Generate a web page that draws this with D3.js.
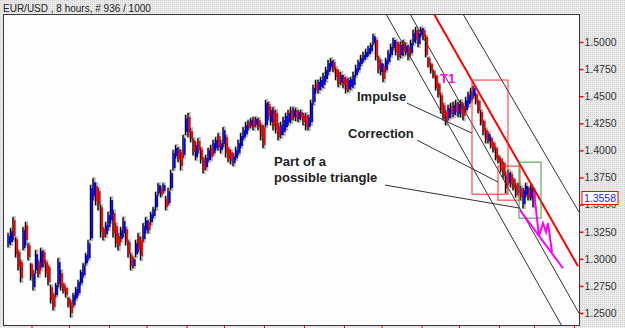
<!DOCTYPE html>
<html>
<head>
<meta charset="utf-8">
<script src="https://cdn.jsdelivr.net/npm/d3@7"></script>
<style>
  body { margin: 0; }
  svg { display: block; }
</style>
</head>
<body>
<script>
const opens = [1.3135,1.3154,1.3356,1.3181,1.3061,1.2969,1.3098,1.3310,1.3126,1.2950,
  1.2738,1.2895,1.2969,1.2922,1.3061,1.2969,1.2922,1.2738,1.2664,1.2664,
  1.2766,1.2867,1.2766,1.2729,1.2636,1.2600,1.2572,1.2636,1.2682,1.2775,
  1.2849,1.2959,1.3005,1.3190,1.3578,1.3671,1.3624,1.3476,1.3273,1.3227,
  1.3291,1.3356,1.3421,1.3301,1.3209,1.3181,1.3236,1.3273,1.3154,1.3033,
  1.2932,1.3042,1.3209,1.3172,1.3181,1.3264,1.3338,1.3338,1.3394,1.3476,
  1.3605,1.3652,1.3624,1.3559,1.3513,1.3652,1.3836,1.3947,1.4012,1.3984,
  1.3956,1.4169,1.4307,1.4178,1.4095,1.3937,1.4086,1.4012,1.3919,1.3845,
  1.3910,1.4030,1.3974,1.4021,1.4132,1.4002,1.4058,1.4122,1.4012,1.3984,
  1.3882,1.3928,1.3974,1.4040,1.4113,1.4150,1.4261,1.4224,1.4289,1.4233,
  1.4279,1.4233,1.4214,1.4233,1.4427,1.4261,1.4372,1.4344,1.4224,1.4141,
  1.4169,1.4214,1.4261,1.4372,1.4307,1.4372,1.4289,1.4354,1.4326,1.4317,
  1.4214,1.4261,1.4446,1.4621,1.4556,1.4584,1.4603,1.4658,1.4723,1.4768,
  1.4815,1.4750,1.4723,1.4621,1.4676,1.4658,1.4566,1.4584,1.4603,1.4695,
  1.4741,1.4796,1.4833,1.4860,1.4888,1.4916,1.4990,1.5018,1.4851,1.4723,
  1.4778,1.4741,1.4815,1.4879,1.4944,1.5000,1.4981,1.4879,1.5000,1.4897,
  1.4953,1.4897,1.5000,1.5110,1.4981,1.5064,1.5110,1.5045,1.4851,1.4796,
  1.4732,1.4686,1.4612,1.4510,1.4418,1.4354,1.4298,1.4409,1.4335,1.4436,
  1.4335,1.4446,1.4409,1.4372,1.4427,1.4464,1.4501,1.4519,1.4455,1.4354,
  1.4270,1.4187,1.4086,1.4113,1.4067,1.4021,1.3947,1.3919,1.3882,1.3772,
  1.3698,1.3781,1.3735,1.3680,1.3605,1.3652,1.3504,1.3587,1.3652,1.3559,
  1.3633]
const highs = [1.3236,1.3282,1.3384,1.3199,1.3079,1.2987,1.3291,1.3338,1.3144,1.2959,
  1.2895,1.3079,1.2987,1.3098,1.3079,1.2987,1.2941,1.2757,1.2682,1.2775,
  1.3005,1.2895,1.2775,1.2738,1.2645,1.2618,1.2682,1.2738,1.2803,1.2895,
  1.2959,1.3051,1.3172,1.3680,1.3744,1.3698,1.3652,1.3495,1.3291,1.3338,
  1.3431,1.3568,1.3449,1.3328,1.3236,1.3291,1.3384,1.3291,1.3172,1.3051,
  1.3014,1.3172,1.3236,1.3199,1.3328,1.3384,1.3356,1.3431,1.3476,1.3615,
  1.3698,1.3671,1.3698,1.3578,1.3652,1.3818,1.4002,1.4049,1.4030,1.4002,
  1.4141,1.4326,1.4344,1.4205,1.4113,1.4077,1.4113,1.4030,1.3937,1.3956,
  1.4021,1.4049,1.4095,1.4122,1.4159,1.4095,1.4214,1.4141,1.4030,1.4002,
  1.3974,1.4030,1.4095,1.4159,1.4214,1.4261,1.4279,1.4298,1.4307,1.4307,
  1.4298,1.4251,1.4233,1.4464,1.4446,1.4399,1.4399,1.4372,1.4251,1.4261,
  1.4307,1.4344,1.4372,1.4399,1.4399,1.4390,1.4372,1.4372,1.4344,1.4344,
  1.4326,1.4464,1.4603,1.4649,1.4649,1.4676,1.4713,1.4768,1.4833,1.4851,
  1.4833,1.4768,1.4741,1.4723,1.4695,1.4676,1.4667,1.4676,1.4723,1.4787,
  1.4833,1.4879,1.4907,1.4935,1.4963,1.4990,1.5073,1.5036,1.4870,1.4833,
  1.4796,1.4851,1.4925,1.4981,1.5036,1.5018,1.5000,1.5000,1.5018,1.4990,
  1.4972,1.5018,1.5110,1.5137,1.5110,1.5137,1.5128,1.5064,1.4860,1.4805,
  1.4741,1.4695,1.4621,1.4528,1.4436,1.4372,1.4418,1.4436,1.4446,1.4464,
  1.4446,1.4464,1.4436,1.4491,1.4538,1.4575,1.4594,1.4528,1.4464,1.4372,
  1.4279,1.4205,1.4169,1.4122,1.4077,1.4030,1.3956,1.3928,1.3892,1.3800,
  1.3818,1.3800,1.3744,1.3698,1.3698,1.3671,1.3652,1.3698,1.3661,1.3680,
  1.3652]
const lows = [1.3107,1.3126,1.3172,1.3014,1.2895,1.2785,1.3079,1.3126,1.2987,1.2803,
  1.2710,1.2867,1.2830,1.2895,1.2922,1.2830,1.2757,1.2590,1.2526,1.2645,
  1.2738,1.2710,1.2682,1.2645,1.2553,1.2461,1.2553,1.2618,1.2664,1.2757,
  1.2830,1.2941,1.2987,1.3172,1.3541,1.3495,1.3449,1.3199,1.3172,1.3199,
  1.3264,1.3328,1.3199,1.3107,1.3079,1.3154,1.3199,1.3126,1.3014,1.2895,
  1.2913,1.3014,1.3061,1.2987,1.3154,1.3236,1.3236,1.3310,1.3375,1.3449,
  1.3587,1.3568,1.3605,1.3449,1.3495,1.3633,1.3818,1.3928,1.3892,1.3818,
  1.3928,1.4141,1.4122,1.4077,1.3956,1.3910,1.3974,1.3882,1.3790,1.3818,
  1.3892,1.3910,1.3956,1.4002,1.4002,1.3974,1.4030,1.3937,1.3892,1.3873,
  1.3855,1.3910,1.3956,1.4021,1.4095,1.4132,1.4187,1.4205,1.4187,1.4214,
  1.4187,1.4095,1.4021,1.4214,1.4279,1.4233,1.4187,1.4159,1.4095,1.4113,
  1.4141,1.4187,1.4233,1.4251,1.4279,1.4270,1.4261,1.4279,1.4233,1.4187,
  1.4187,1.4233,1.4418,1.4528,1.4528,1.4556,1.4575,1.4631,1.4695,1.4741,
  1.4723,1.4649,1.4584,1.4603,1.4575,1.4528,1.4538,1.4556,1.4575,1.4676,
  1.4723,1.4778,1.4815,1.4842,1.4870,1.4897,1.4972,1.4833,1.4713,1.4695,
  1.4631,1.4723,1.4796,1.4860,1.4925,1.4879,1.4833,1.4851,1.4870,1.4879,
  1.4833,1.4879,1.4972,1.4990,1.4953,1.5045,1.5018,1.4860,1.4768,1.4713,
  1.4667,1.4556,1.4491,1.4344,1.4279,1.4233,1.4279,1.4298,1.4307,1.4326,
  1.4307,1.4307,1.4279,1.4354,1.4399,1.4446,1.4482,1.4427,1.4344,1.4233,
  1.4141,1.4067,1.4067,1.4021,1.3984,1.3910,1.3882,1.3800,1.3744,1.3605,
  1.3680,1.3661,1.3633,1.3568,1.3587,1.3541,1.3467,1.3568,1.3541,1.3541,
  1.3476]
const closes = [1.3209,1.3255,1.3209,1.3042,1.2922,1.2821,1.3264,1.3172,1.3014,1.2830,
  1.2867,1.3042,1.2858,1.3070,1.2950,1.2858,1.2785,1.2618,1.2553,1.2757,
  1.2969,1.2738,1.2701,1.2664,1.2572,1.2498,1.2664,1.2720,1.2785,1.2877,
  1.2941,1.3033,1.3144,1.3652,1.3708,1.3532,1.3495,1.3246,1.3199,1.3310,
  1.3403,1.3541,1.3236,1.3144,1.3117,1.3264,1.3347,1.3154,1.3042,1.2932,
  1.2996,1.3144,1.3089,1.3024,1.3301,1.3356,1.3264,1.3412,1.3458,1.3587,
  1.3680,1.3587,1.3680,1.3476,1.3624,1.3790,1.3974,1.4021,1.3919,1.3855,
  1.4113,1.4298,1.4159,1.4104,1.3984,1.4049,1.4002,1.3910,1.3818,1.3928,
  1.4002,1.3937,1.4067,1.4095,1.4030,1.4067,1.4187,1.3974,1.3919,1.3901,
  1.3947,1.4002,1.4067,1.4132,1.4187,1.4233,1.4205,1.4279,1.4214,1.4289,
  1.4214,1.4122,1.4049,1.4436,1.4317,1.4372,1.4224,1.4187,1.4122,1.4233,
  1.4279,1.4317,1.4344,1.4279,1.4372,1.4298,1.4354,1.4298,1.4261,1.4214,
  1.4307,1.4436,1.4575,1.4556,1.4631,1.4649,1.4686,1.4741,1.4805,1.4824,
  1.4741,1.4676,1.4612,1.4695,1.4603,1.4556,1.4649,1.4658,1.4695,1.4759,
  1.4815,1.4851,1.4879,1.4907,1.4944,1.4972,1.5055,1.4860,1.4741,1.4805,
  1.4658,1.4833,1.4897,1.4953,1.5018,1.4907,1.4860,1.4972,1.4907,1.4963,
  1.4860,1.4990,1.5082,1.5018,1.5082,1.5119,1.5045,1.4879,1.4787,1.4732,
  1.4676,1.4575,1.4510,1.4372,1.4307,1.4270,1.4390,1.4335,1.4418,1.4354,
  1.4427,1.4344,1.4317,1.4464,1.4510,1.4547,1.4575,1.4446,1.4363,1.4251,
  1.4169,1.4095,1.4150,1.4040,1.4002,1.3928,1.3892,1.3818,1.3763,1.3652,
  1.3790,1.3689,1.3652,1.3587,1.3671,1.3568,1.3633,1.3671,1.3559,1.3661,
  1.3558]

// price axis and time ticks (bar numbers)
const priceTicks = [1.25, 1.275, 1.3, 1.325, 1.35, 1.375, 1.4, 1.425, 1.45, 1.475, 1.5]
const timeTicks = [9, 24, 40, 55, 71, 86, 102, 118, 134, 149, 165, 180, 196, 210, 226]

// trend lines: [bar, price] pairs
const redLine = [[170, 1.5258], [227.6, 1.2932]]
const channelLines = [
  [[150.8, 1.5258], [221.2, 1.2378]],
  [[160.4, 1.5258], [228.0, 1.2498]],
  [[181.6, 1.5258], [228.0, 1.3431]]
]
// boxes: [bar from, bar to, price top, price bottom]
const redBoxes = [[185.2, 199.6, 1.4649, 1.3596], [195.6, 204.4, 1.3855, 1.3541]]
const greenBox = [204, 212.8, 1.3892, 1.3375]
// projected wave (magenta)
const projWave = [[210, 1.3615], [212, 1.3209], [213.6, 1.3328], [214.8, 1.3246], [215.6, 1.3328], [217.2, 1.3061]]
const projBase = [[204.4, 1.3449], [221.6, 1.2913]]
// annotation pointers
const pointers = [
  [[159.2, 1.4436], [185.2, 1.4159]],
  [[163.2, 1.4095], [195.6, 1.3708]],
  [[150.4, 1.3680], [204.4, 1.3467]]
]
const notes = ["Impulse", "Correction", "Part of a", "possible triangle"]
const noteAt = [[139.2, 1.4455], [135.6, 1.4118], [106, 1.3852], [106, 1.3713]]
const t1At = [172.4, 1.4621]

const W = 625, H = 328
const frame = {left: 3.5, top: 14.5, right: 579.5, bottom: 325.5}
const font = "'Liberation Sans', Arial, sans-serif"

const svg = d3.select("body").append("svg")
  .attr("width", W)
  .attr("height", H)

const defs = svg.append("defs")
const pat = defs.append("pattern")
  .attr("id", "dots")
  .attr("width", 2).attr("height", 2)
  .attr("patternUnits", "userSpaceOnUse")
pat.append("rect").attr("width", 2).attr("height", 2).attr("fill", "#ececec")
pat.append("rect").attr("width", 1).attr("height", 1).attr("fill", "#d0d0d0")

defs.append("clipPath").attr("id", "clip")
  .append("rect")
  .attr("x", frame.left + 0.5).attr("y", frame.top + 0.5)
  .attr("width", frame.right - frame.left - 1)
  .attr("height", frame.bottom - frame.top - 1)

svg.append("rect").attr("width", W).attr("height", H).attr("fill", "url(#dots)")

svg.append("rect")
  .attr("x", frame.left).attr("y", frame.top)
  .attr("width", frame.right - frame.left)
  .attr("height", frame.bottom - frame.top)
  .attr("fill", "#fcfdfc")
  .attr("stroke", "#3a3a3a")

svg.append("text")
  .attr("x", 3).attr("y", 11.5)
  .style("font", `10px ${font}`)
  .attr("fill", "#222")
  .text("EUR/USD , 8 hours, # 936 / 1000")

const x = d3.scaleLinear().domain([0, closes.length - 1]).range([9, 534])
const y = d3.scaleLinear().domain([1.25, 1.5]).range([313, 42])

const last = closes[closes.length - 1]
const lastY = Math.round(y(last))

// right price axis; the label under the last-price box only shows below it
defs.append("clipPath").attr("id", "axisclip")
  .append("rect")
  .attr("x", frame.right).attr("y", 0)
  .attr("width", W - frame.right).attr("height", H)
const yAxis = svg.append("g")
  .attr("transform", `translate(${frame.right},0)`)
  .call(d3.axisRight(y).tickValues(priceTicks).tickFormat(d3.format(".4f")).tickSize(4).tickPadding(1))
yAxis.select(".domain").remove()
yAxis.selectAll("line").attr("stroke", "#ff0000").attr("stroke-width", 1.5)
yAxis.selectAll("text").attr("fill", "#333").style("font", `10.5px ${font}`)
yAxis.selectAll(".tick")
  .filter(d => Math.abs(y(d) - lastY) < 10)
  .select("text")
  .attr("clip-path", "inset(" + (lastY + 7 - y(1.35) + 6) + "px 0 0 0)")

// bottom time ticks, no labels
const xAxis = svg.append("g")
  .attr("transform", `translate(0,${frame.bottom})`)
  .call(d3.axisBottom(x).tickValues(timeTicks).tickFormat("").tickSize(3))
xAxis.select(".domain").remove()
xAxis.selectAll("line").attr("stroke", "#ff0000")

const plot = svg.append("g").attr("clip-path", "url(#clip)")

// candles
const bars = closes.map((c, i) => ({i, o: opens[i], h: highs[i], l: lows[i], c}))

plot.selectAll(".halo").data(bars).join("line")
  .attr("class", "halo")
  .attr("x1", d => x(d.i)).attr("x2", d => x(d.i))
  .attr("y1", d => y(d.h) - 1).attr("y2", d => y(d.l) + 1)
  .attr("stroke", "#b8b8b8")
  .attr("stroke-width", 3.5)

plot.selectAll(".wick").data(bars).join("line")
  .attr("class", "wick")
  .attr("x1", d => x(d.i) - 1).attr("x2", d => x(d.i) - 1)
  .attr("y1", d => y(d.h)).attr("y2", d => y(d.l))
  .attr("stroke", "#000")
  .attr("stroke-width", 1.3)

plot.selectAll(".body").data(bars).join("rect")
  .attr("class", "body")
  .attr("x", d => x(d.i) - 0.4)
  .attr("width", 2)
  .attr("y", d => y(Math.max(d.o, d.c)))
  .attr("height", d => Math.max(1, Math.abs(y(d.o) - y(d.c))))
  .attr("fill", d => d.c >= d.o ? "#0000ff" : "#ff0000")

const line = d3.line().x(d => x(d[0])).y(d => y(d[1]))

// channel
plot.selectAll(".chan").data(channelLines).join("path")
  .attr("d", line)
  .attr("fill", "none")
  .attr("stroke", "#333")
  .attr("stroke-width", 1)

plot.append("path")
  .attr("d", line(redLine))
  .attr("fill", "none")
  .attr("stroke", "#ff0000")
  .attr("stroke-width", 2)

// boxes
const boxRect = (sel, b, color) => sel.append("rect")
  .attr("x", x(b[0])).attr("y", y(b[2]))
  .attr("width", x(b[1]) - x(b[0]))
  .attr("height", y(b[3]) - y(b[2]))
  .attr("fill", "none")
  .attr("stroke", color)
  .attr("stroke-width", 1)

redBoxes.forEach(b => boxRect(plot, b, "#ff2a2a"))
boxRect(plot, greenBox, "#3c9a3c")

// pointers
plot.selectAll(".ptr").data(pointers).join("path")
  .attr("d", line)
  .attr("fill", "none")
  .attr("stroke", "#333")
  .attr("stroke-width", 1)

// projection
plot.append("path")
  .attr("d", line(projBase))
  .attr("fill", "none")
  .attr("stroke", "#ff00ff")
  .attr("stroke-width", 2)
plot.append("path")
  .attr("d", line(projWave))
  .attr("fill", "none")
  .attr("stroke", "#ff00ff")
  .attr("stroke-width", 2)

// labels
svg.selectAll(".note").data(notes).join("text")
  .attr("x", (d, i) => x(noteAt[i][0]))
  .attr("y", (d, i) => y(noteAt[i][1]))
  .style("font", `bold 13px ${font}`)
  .attr("fill", "#222")
  .text(d => d)

svg.append("text")
  .attr("x", x(t1At[0])).attr("y", y(t1At[1]))
  .style("font", `bold 13px ${font}`)
  .attr("fill", "#ff00ff")
  .text("T1")

// last price box
svg.append("rect")
  .attr("x", frame.right + 2.5).attr("y", lastY - 6.5)
  .attr("width", 36).attr("height", 13)
  .attr("fill", "#fff")
  .attr("stroke", "#ff0000")
svg.append("text")
  .attr("x", frame.right + 20.5).attr("y", y(last) + 4)
  .attr("text-anchor", "middle")
  .style("font", `10.5px ${font}`)
  .attr("fill", "#1a1aff")
  .text(d3.format(".4f")(last))
</script>
</body>
</html>
